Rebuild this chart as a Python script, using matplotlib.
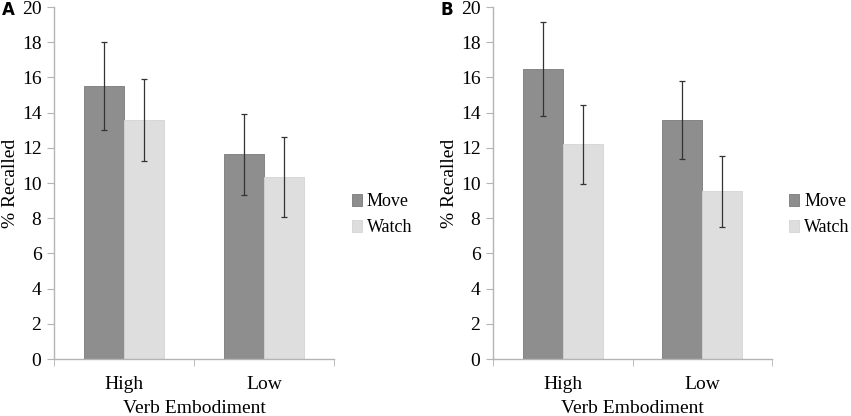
import numpy as np
import matplotlib.pyplot as plt

plt.rcParams['font.family'] = ['Liberation Serif', 'DejaVu Serif']

groups = ['High', 'Low']
conditions = ['Move', 'Watch']

# panel A
a_move = [15.52, 11.62]
a_watch = [13.57, 10.35]
a_move_err = [2.5, 2.3]
a_watch_err = [2.32, 2.28]

# panel B
b_move = [16.5, 13.58]
b_watch = [12.19, 9.53]
b_move_err = [2.67, 2.23]
b_watch_err = [2.24, 2.02]

move_col = '#8e8e8e'
watch_col = '#dedede'
axis_col = '#b4b4b4'

fig = plt.figure(figsize=(8.51, 4.16), dpi=100)
W, H = 851, 416


def panel(left, right, move, watch, move_err, watch_err, letter, leg_x):
    ax = fig.add_axes([left / W, 1 - 359 / H, (right - left) / W, 352 / H])
    x = np.arange(len(groups))
    w = 0.285
    ax.bar(x - w / 2, move, w, color=move_col, edgecolor='#7a7a7a', linewidth=0.6,
           label=conditions[0])
    ax.bar(x + w / 2, watch, w, color=watch_col, edgecolor='#d4d4d4', linewidth=0.6,
           label=conditions[1])
    ax.errorbar(x - w / 2, move, yerr=move_err, fmt='none', ecolor='#333333',
                elinewidth=0.9, capsize=2, capthick=0.9)
    ax.errorbar(x + w / 2, watch, yerr=watch_err, fmt='none', ecolor='#333333',
                elinewidth=0.9, capsize=2, capthick=0.9)
    ax.set_xlim(-0.5, 1.5)
    ax.set_ylim(0, 20)
    ax.set_yticks(range(0, 21, 2))
    ax.set_xticks(x)
    ax.set_xticklabels(groups)
    ax.set_xticks([-0.5, 0.5, 1.5], minor=True)
    ax.tick_params(axis='x', which='major', length=0, pad=12, labelsize=14)
    ax.tick_params(axis='x', which='minor', length=5, color=axis_col, direction='out')
    ax.tick_params(axis='y', length=5, color=axis_col, labelsize=14, pad=4)
    for s in ['top', 'right']:
        ax.spines[s].set_visible(False)
    for s in ['left', 'bottom']:
        ax.spines[s].set_color(axis_col)
        ax.spines[s].set_linewidth(1.0)
    ax.set_ylabel('% Recalled', fontsize=14, labelpad=2)
    ax.set_xlabel('Verb Embodiment', fontsize=14, labelpad=5)
    ax.legend(loc='center left', bbox_to_anchor=(leg_x, 0.41), frameon=False,
              fontsize=13, handlelength=0.55, handleheight=0.7, handletextpad=0.3,
              labelspacing=0.5, borderpad=0, borderaxespad=0)
    fig.text((left - 52) / W, 1 - 10 / H, letter, fontsize=12, fontweight='bold',
             family='DejaVu Sans', va='center', ha='left')
    return ax


panel(54, 334, a_move, a_watch, a_move_err, a_watch_err, 'A', 1.063)
panel(493, 772, b_move, b_watch, b_move_err, b_watch_err, 'B', 1.06)

fig.savefig('out.png', dpi=100)
